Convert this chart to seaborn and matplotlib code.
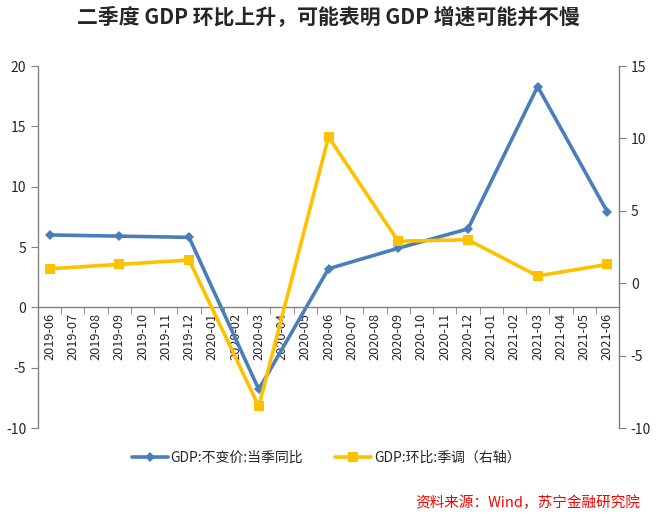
import numpy as np
import pandas as pd
import seaborn as sns
import matplotlib.pyplot as plt
from matplotlib.ticker import FixedLocator

# monthly category axis, data only at quarter ends
months = ["2019-06", "2019-07", "2019-08", "2019-09", "2019-10", "2019-11", "2019-12",
          "2020-01", "2020-02", "2020-03", "2020-04", "2020-05", "2020-06", "2020-07",
          "2020-08", "2020-09", "2020-10", "2020-11", "2020-12", "2021-01", "2021-02",
          "2021-03", "2021-04", "2021-05", "2021-06"]
quarters = ["2019-06", "2019-09", "2019-12", "2020-03", "2020-06", "2020-09",
            "2020-12", "2021-03", "2021-06"]
yoy = [6.0, 5.9, 5.8, -6.8, 3.2, 4.9, 6.5, 18.3, 7.9]      # left axis
qoq = [1.0, 1.3, 1.6, -8.5, 10.1, 2.9, 3.0, 0.5, 1.3]      # right axis

yoy_name = "GDP:不变价:当季同比"
qoq_name = "GDP:环比:季调（右轴）"

df = pd.DataFrame({"pos": [months.index(q) for q in quarters], "yoy": yoy, "qoq": qoq})

sns.set_style("white")
plt.rcParams["font.family"] = ["Noto Sans CJK SC", "DejaVu Sans"]
plt.rcParams["axes.unicode_minus"] = False

fig = plt.figure(figsize=(6.56, 5.14), dpi=100)
ax = fig.add_axes([38/656, 1-428/514, (619-38)/656, (428-66)/514])
ax2 = ax.twinx()

blue = "#4A7EBB"
gold = "#FFC000"

sns.lineplot(data=df, x="pos", y="yoy", ax=ax, color=blue, linewidth=2.6,
             marker="D", markersize=5, markeredgewidth=0, label=yoy_name, legend=False)
sns.lineplot(data=df, x="pos", y="qoq", ax=ax2, color=gold, linewidth=2.6,
             marker="s", markersize=6.5, markeredgewidth=0, label=qoq_name, legend=False)

ax.set_xlim(-0.5, len(months) - 0.5)
ax.set_ylim(-10, 20)
ax.set_yticks(range(-10, 21, 5))
ax2.set_ylim(-10, 15)
ax2.set_yticks(range(-10, 16, 5))

ax.set_xticks(range(len(months)))
ax.set_xticklabels(months)
ax.tick_params(axis="x", which="major", length=0, pad=4, labelrotation=90, labelsize=9.2)
for t in ax.get_xticklabels():
    t.set_family(["DejaVu Sans"])
    t.set_va("top")
ax.xaxis.set_minor_locator(FixedLocator(np.arange(-0.5, len(months), 1)))
ax.tick_params(axis="x", which="minor", length=5, color="#808080", direction="out", bottom=True)

ax.spines["bottom"].set_position(("data", 0))
for a in (ax, ax2):
    a.spines["top"].set_visible(False)
    for s in a.spines.values():
        s.set_color("#808080")
        s.set_linewidth(1)
    a.set_xlabel("")
    a.set_ylabel("")
ax2.spines["bottom"].set_visible(False)
ax2.spines["left"].set_visible(False)
ax.spines["right"].set_visible(False)

ax.tick_params(axis="y", length=5, color="#808080", labelsize=10, direction="out", left=True)
ax2.tick_params(axis="y", length=5, color="#808080", labelsize=10, direction="out", right=True)

fig.text(0.5, 1-17/514, "二季度 GDP 环比上升，可能表明 GDP 增速可能并不慢",
         ha="center", va="center", fontsize=15, fontweight="bold")

h1, l1 = ax.get_legend_handles_labels()
h2, l2 = ax2.get_legend_handles_labels()
fig.legend(h1 + h2, l1 + l2, loc="center", bbox_to_anchor=(0.497, 1-458/514),
           ncol=2, frameon=False, fontsize=10, columnspacing=2.3,
           handlelength=2.6, handletextpad=0.2)

fig.text(640/656, 1-503/514, "资料来源：Wind，苏宁金融研究院", ha="right", va="center",
         fontsize=10.5, color="red", style="italic")

fig.savefig("out.png", dpi=100)
